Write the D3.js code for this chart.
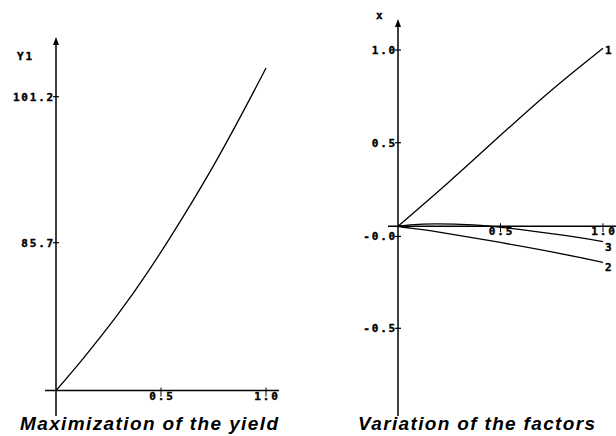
<!DOCTYPE html>
<html>
<head>
<meta charset="utf-8">
<script src="https://cdn.jsdelivr.net/npm/d3@7"></script>
<style>
  body { margin: 0; background: #fff; }
  .tk { font-family: 'DejaVu Sans Mono', monospace; font-weight: bold; font-size: 11px; letter-spacing: 1.8px; fill: #000; stroke: #000; stroke-width: 0.4px; }
  .ttl { font-family: 'Liberation Sans', Arial, sans-serif; font-weight: bold; font-style: italic; font-size: 19px; fill: #000; }
</style>
</head>
<body>
<div id="chart"></div>
<script>
// left panel : yield Y1 vs step
const yieldX = [0, 0.129, 0.29, 0.448, 0.605, 0.767, 0.924, 1.0];
const yieldY = [70.0, 73.4, 77.95, 82.95, 88.45, 94.55, 101.0, 104.25];
const leftYTicks = [101.2, 85.7];
const leftYLabels = ['101.2', '85.7'];
const leftXTicks = [0.5, 1.0];
const leftXLabels = ['0.5', '1.0'];

// right panel : variation of the factors
const factorNames = ['1', '2', '3'];
const factorX = [
  [0, 0.25, 0.5, 0.75, 1.0],
  [0, 0.059, 0.156, 0.449, 0.774, 1.0],
  [0, 0.122, 0.366, 0.61, 0.854, 1.0]
];
const factorY = [
  [0.05, 0.29, 0.54, 0.785, 1.01],
  [0.05, 0.04, 0.026, -0.028, -0.093, -0.145],
  [0.05, 0.062, 0.057, 0.03, -0.006, -0.033]
];
const rightYTicks = [1.0, 0.5, -0.005, -0.5];
const rightYLabels = ['1.0', '0.5', '-0.0', '-0.5'];
const rightXTicks = [0.5, 1.0];
const rightXLabels = ['0.5', '1.0'];

const width = 616;
const height = 436;

const svg = d3.select('#chart').append('svg')
  .attr('width', width)
  .attr('height', height);

// draw one panel: axes with arrow, ticks, labels
function panel(opt) {
  const g = svg.append('g');
  const x = opt.x, y = opt.y;
  const x0 = x(0), yBase = y(opt.axisValue);

  // y axis
  g.append('line')
    .attr('x1', x0).attr('x2', x0)
    .attr('y1', opt.top + 4).attr('y2', 416)
    .attr('stroke', '#000').attr('stroke-width', 1.5);
  g.append('path')
    .attr('d', 'M' + x0 + ',' + opt.top + 'l-3,8l6,0z')
    .attr('fill', '#000');
  // x axis
  g.append('line')
    .attr('x1', opt.xStart).attr('x2', opt.xEnd)
    .attr('y1', yBase).attr('y2', yBase)
    .attr('stroke', '#000').attr('stroke-width', 1.5);

  // y ticks
  opt.yTicks.forEach(function(v, i) {
    g.append('line')
      .attr('x1', x0 - 3).attr('x2', x0 + 3)
      .attr('y1', y(v)).attr('y2', y(v))
      .attr('stroke', '#000').attr('stroke-width', 1.2);
    g.append('text').attr('class', 'tk')
      .attr('x', x0 - 1).attr('y', y(v) + 4)
      .style('text-anchor', 'end')
      .text(opt.yLabels[i]);
  });
  // x ticks
  opt.xTicks.forEach(function(v, i) {
    g.append('line')
      .attr('x1', x(v)).attr('x2', x(v))
      .attr('y1', yBase - 3).attr('y2', yBase + 6)
      .attr('stroke', '#000').attr('stroke-width', 1);
    g.append('text').attr('class', 'tk')
      .attr('x', x(v) + 1).attr('y', yBase + 9)
      .style('text-anchor', 'middle')
      .text(opt.xLabels[i]);
  });

  // axis name
  g.append('text').attr('class', 'tk')
    .attr('x', opt.nameX).attr('y', opt.nameY)
    .text(opt.name);

  // title
  g.append('text').attr('class', 'ttl')
    .attr('x', opt.titleX).attr('y', 430)
    .attr('textLength', opt.titleW)
    .attr('lengthAdjust', 'spacing')
    .text(opt.title);
  return g;
}

const xL = d3.scaleLinear().domain([0, 1]).range([56, 266]);
const yL = d3.scaleLinear().domain([85.7, 101.2]).range([242.7, 96.7]);
const gL = panel({
  x: xL, y: yL, axisValue: 70.0, top: 37, xStart: 45, xEnd: 279,
  yTicks: leftYTicks, yLabels: leftYLabels,
  xTicks: leftXTicks, xLabels: leftXLabels,
  name: 'Y1', nameX: 17, nameY: 60,
  title: 'Maximization of the yield', titleX: 20, titleW: 258
});

const line = d3.line()
  .x(function(d) { return d[0]; })
  .y(function(d) { return d[1]; })
  .curve(d3.curveNatural);

//print the yield curve
gL.append('path')
  .attr('d', line(yieldX.map(function(v, i) { return [xL(v), yL(yieldY[i])]; })))
  .attr('fill', 'none').attr('stroke', '#000').attr('stroke-width', 1.3);

const xR = d3.scaleLinear().domain([0, 1]).range([398, 603]);
const yR = d3.scaleLinear().domain([-0.5, 1.0]).range([328.3, 50]);
const gR = panel({
  x: xR, y: yR, axisValue: 0.05, top: 19, xStart: 388, xEnd: 616,
  yTicks: rightYTicks, yLabels: rightYLabels,
  xTicks: rightXTicks, xLabels: rightXLabels,
  name: 'x', nameX: 376, nameY: 19,
  title: 'Variation of the factors', titleX: 358, titleW: 237
});

//print the factor lines with their numbers
factorNames.forEach(function(name, k) {
  const pts = factorX[k].map(function(v, i) { return [xR(v), yR(factorY[k][i])]; });
  gR.append('path')
    .attr('d', line(pts))
    .attr('fill', 'none').attr('stroke', '#000').attr('stroke-width', 1.3);
  const last = pts[pts.length - 1];
  gR.append('text').attr('class', 'tk')
    .attr('x', last[0] + 2).attr('y', last[1] + (k === 0 ? 6 : 9))
    .text(name);
});
</script>
</body>
</html>
